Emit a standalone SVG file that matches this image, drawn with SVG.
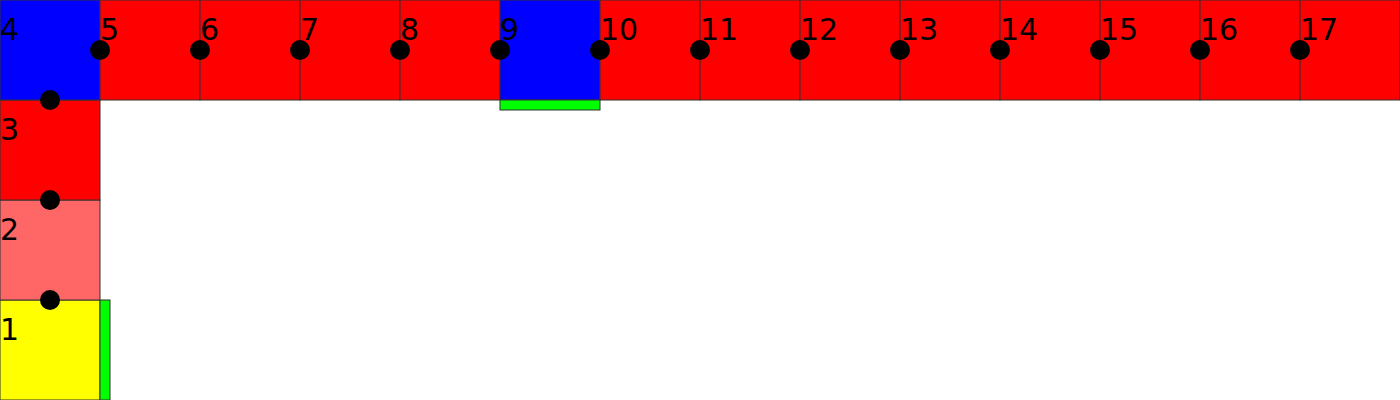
<svg xmlns="http://www.w3.org/2000/svg" width="1400" height="400" viewBox="0 0 1400 400">
<style>
.c{stroke:#333;stroke-width:1}
.r{fill:#ff0000}
.b{fill:#0000ff}
.g{fill:#00ff00;stroke:#333;stroke-width:1}
.d{fill:#000}
text{font-family:"DejaVu Sans",sans-serif;font-size:30px;fill:#000}
</style>
<rect width="1400" height="400" fill="#fff"/>
<g id="n1"><rect class="c" x="0" y="300" width="100" height="100" fill="#ffff00"/><text x="0" y="340">1</text></g>
<g id="n2"><rect class="c" x="0" y="200" width="100" height="100" fill="#ff6666"/><text x="0" y="240">2</text></g>
<g id="n3"><rect class="c r" x="0" y="100" width="100" height="100"/><text x="0" y="140">3</text></g>
<g id="n4"><rect class="c b" x="0" y="0" width="100" height="100"/><text x="0" y="40">4</text></g>
<g id="n5"><rect class="c r" x="100" y="0" width="100" height="100"/><text x="100" y="40">5</text></g>
<g id="n6"><rect class="c r" x="200" y="0" width="100" height="100"/><text x="200" y="40">6</text></g>
<g id="n7"><rect class="c r" x="300" y="0" width="100" height="100"/><text x="300" y="40">7</text></g>
<g id="n8"><rect class="c r" x="400" y="0" width="100" height="100"/><text x="400" y="40">8</text></g>
<g id="n9"><rect class="c b" x="500" y="0" width="100" height="100"/><text x="500" y="40">9</text></g>
<g id="n10"><rect class="c r" x="600" y="0" width="100" height="100"/><text x="600" y="40">10</text></g>
<g id="n11"><rect class="c r" x="700" y="0" width="100" height="100"/><text x="700" y="40">11</text></g>
<g id="n12"><rect class="c r" x="800" y="0" width="100" height="100"/><text x="800" y="40">12</text></g>
<g id="n13"><rect class="c r" x="900" y="0" width="100" height="100"/><text x="900" y="40">13</text></g>
<g id="n14"><rect class="c r" x="1000" y="0" width="100" height="100"/><text x="1000" y="40">14</text></g>
<g id="n15"><rect class="c r" x="1100" y="0" width="100" height="100"/><text x="1100" y="40">15</text></g>
<g id="n16"><rect class="c r" x="1200" y="0" width="100" height="100"/><text x="1200" y="40">16</text></g>
<g id="n17"><rect class="c r" x="1300" y="0" width="100" height="100"/><text x="1300" y="40">17</text></g>
<g id="bars">
<rect class="g" x="100" y="300" width="10" height="100"/>
<rect class="g" x="500" y="100" width="100" height="10"/>
</g>
<g id="connectors">
<circle class="d" cx="50" cy="300" r="10"/>
<circle class="d" cx="50" cy="200" r="10"/>
<circle class="d" cx="50" cy="100" r="10"/>
<circle class="d" cx="100" cy="50" r="10"/>
<circle class="d" cx="200" cy="50" r="10"/>
<circle class="d" cx="300" cy="50" r="10"/>
<circle class="d" cx="400" cy="50" r="10"/>
<circle class="d" cx="500" cy="50" r="10"/>
<circle class="d" cx="600" cy="50" r="10"/>
<circle class="d" cx="700" cy="50" r="10"/>
<circle class="d" cx="800" cy="50" r="10"/>
<circle class="d" cx="900" cy="50" r="10"/>
<circle class="d" cx="1000" cy="50" r="10"/>
<circle class="d" cx="1100" cy="50" r="10"/>
<circle class="d" cx="1200" cy="50" r="10"/>
<circle class="d" cx="1300" cy="50" r="10"/>
</g>
</svg>
